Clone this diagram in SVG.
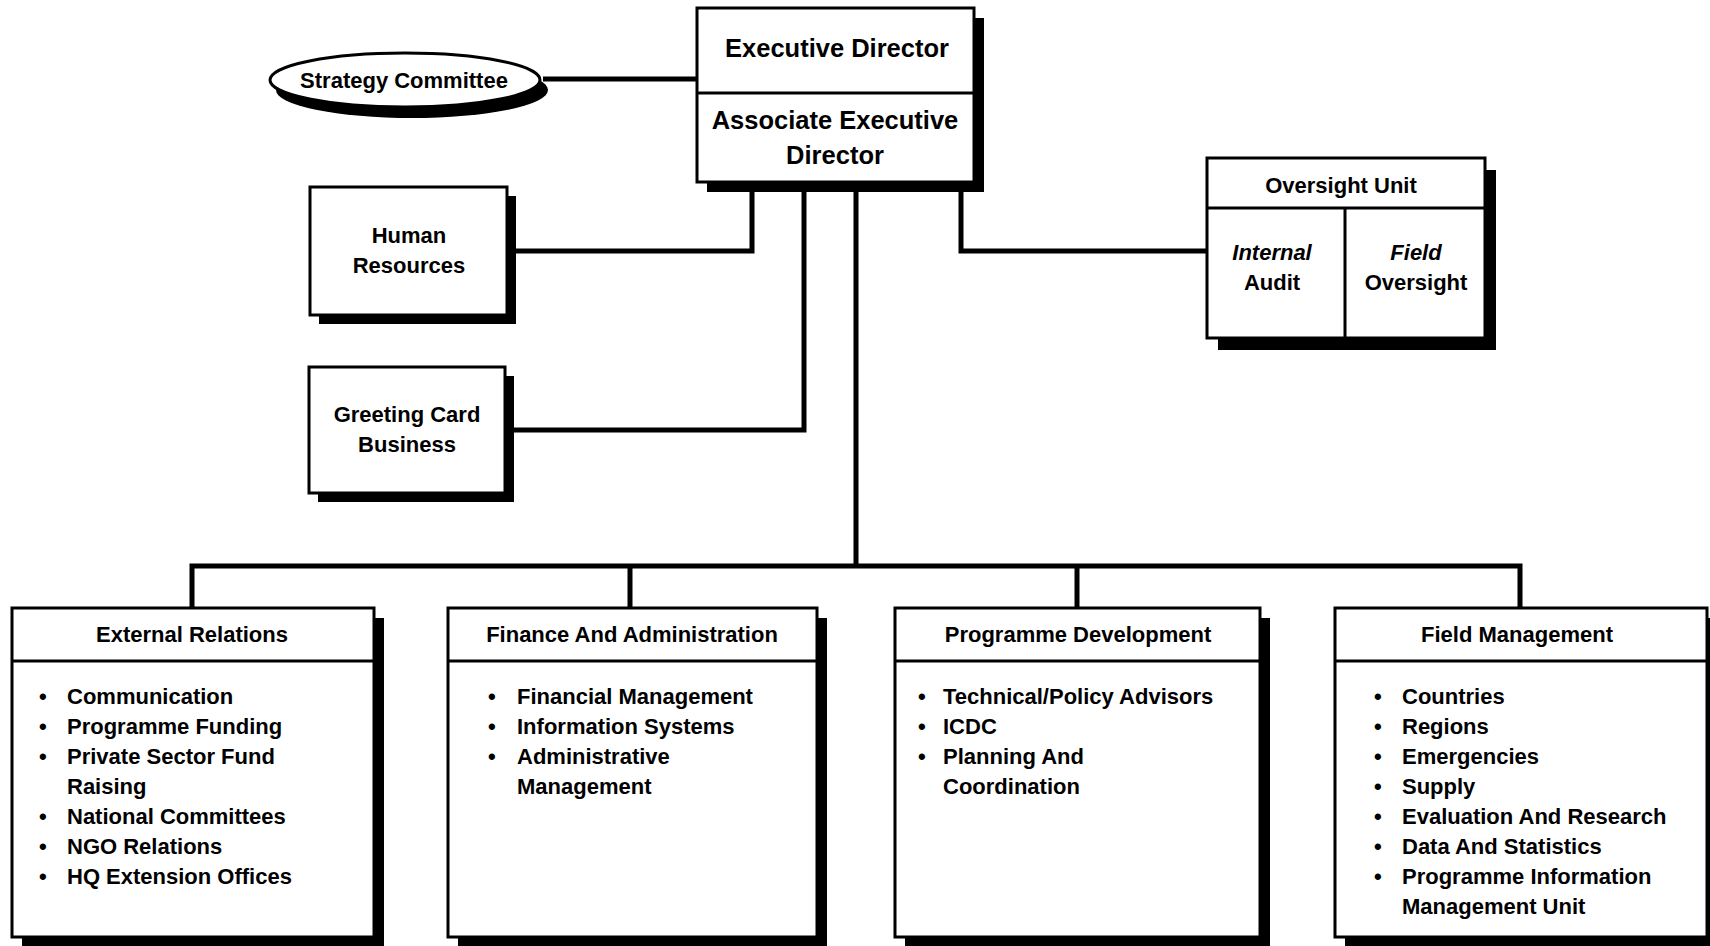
<svg xmlns="http://www.w3.org/2000/svg" width="1710" height="946" viewBox="0 0 1710 946">
<style>
  .bg { fill: #ffffff; }
  .box { fill: #ffffff; stroke: #000000; stroke-width: 3; }
  .div { stroke: #000000; stroke-width: 3; fill: none; }
  .shadow { fill: #000000; }
  .conn { stroke: #000000; stroke-width: 5; fill: none; stroke-linejoin: miter; }
  text { font-family: "Liberation Sans", Arial, Helvetica, sans-serif; font-weight: bold; fill: #000000; }
  .t22 { font-size: 22px; }
  .mid { text-anchor: middle; }
  .big { font-size: 25.5px; text-anchor: middle; }
  .it { font-style: italic; }
</style>
<rect class="bg" x="0" y="0" width="1710" height="946"/>

<g id="connectors">
  <path class="conn" d="M543,79 H697"/>
  <path class="conn" d="M752,182 V251 H507"/>
  <path class="conn" d="M804,182 V430 H505"/>
  <path class="conn" d="M856,182 V566"/>
  <path class="conn" d="M961,182 V251 H1207"/>
  <path class="conn" d="M192,608 V566 H1520 V608"/>
  <path class="conn" d="M630,566 V608"/>
  <path class="conn" d="M1077,566 V608"/>
</g>

<g id="strategy-committee">
  <ellipse class="shadow" cx="412" cy="90" rx="136" ry="28"/>
  <ellipse class="box" cx="405" cy="80" rx="135" ry="27"/>
  <text class="t22 mid" x="404" y="88">Strategy Committee</text>
</g>

<g id="executive-director">
  <rect class="shadow" x="707" y="18" width="277" height="174"/>
  <rect class="box" x="697" y="8" width="277" height="174"/>
  <line class="div" x1="697" y1="93" x2="974" y2="93"/>
  <text class="big" x="837" y="57">Executive Director</text>
  <text class="big" x="835" y="129">Associate Executive</text>
  <text class="big" x="835" y="164">Director</text>
</g>

<g id="human-resources">
  <rect class="shadow" x="319" y="196" width="197" height="128"/>
  <rect class="box" x="310" y="187" width="197" height="128"/>
  <text class="t22 mid" x="409" y="243">Human</text>
  <text class="t22 mid" x="409" y="273">Resources</text>
</g>

<g id="greeting-card-business">
  <rect class="shadow" x="318" y="376" width="196" height="126"/>
  <rect class="box" x="309" y="367" width="196" height="126"/>
  <text class="t22 mid" x="407" y="422">Greeting Card</text>
  <text class="t22 mid" x="407" y="452">Business</text>
</g>

<g id="oversight-unit">
  <rect class="shadow" x="1218" y="170" width="278" height="180"/>
  <rect class="box" x="1207" y="158" width="278" height="180"/>
  <line class="div" x1="1207" y1="208" x2="1485" y2="208"/>
  <line class="div" x1="1345" y1="208" x2="1345" y2="338"/>
  <text class="t22 mid" x="1341" y="193">Oversight Unit</text>
  <text class="t22 mid it" x="1272" y="260">Internal</text>
  <text class="t22 mid" x="1272" y="290">Audit</text>
  <text class="t22 mid it" x="1416" y="260">Field</text>
  <text class="t22 mid" x="1416" y="290">Oversight</text>
</g>

<g id="external-relations">
  <rect class="shadow" x="22" y="618" width="362" height="329"/>
  <rect class="box" x="12" y="608" width="362" height="329"/>
  <line class="div" x1="12" y1="661" x2="374" y2="661"/>
  <text class="t22 mid" x="192" y="642">External Relations</text>
  <text class="t22" x="39" y="704">•</text><text class="t22" x="67" y="704">Communication</text>
  <text class="t22" x="39" y="734">•</text><text class="t22" x="67" y="734">Programme Funding</text>
  <text class="t22" x="39" y="764">•</text><text class="t22" x="67" y="764">Private Sector Fund</text>
  <text class="t22" x="67" y="794">Raising</text>
  <text class="t22" x="39" y="824">•</text><text class="t22" x="67" y="824">National Committees</text>
  <text class="t22" x="39" y="854">•</text><text class="t22" x="67" y="854">NGO Relations</text>
  <text class="t22" x="39" y="884">•</text><text class="t22" x="67" y="884">HQ Extension Offices</text>
</g>

<g id="finance-administration">
  <rect class="shadow" x="458" y="618" width="369" height="329"/>
  <rect class="box" x="448" y="608" width="369" height="329"/>
  <line class="div" x1="448" y1="661" x2="817" y2="661"/>
  <text class="t22 mid" x="632" y="642">Finance And Administration</text>
  <text class="t22" x="488" y="704">•</text><text class="t22" x="517" y="704">Financial Management</text>
  <text class="t22" x="488" y="734">•</text><text class="t22" x="517" y="734">Information Systems</text>
  <text class="t22" x="488" y="764">•</text><text class="t22" x="517" y="764">Administrative</text>
  <text class="t22" x="517" y="794">Management</text>
</g>

<g id="programme-development">
  <rect class="shadow" x="905" y="618" width="365" height="329"/>
  <rect class="box" x="895" y="608" width="365" height="329"/>
  <line class="div" x1="895" y1="661" x2="1260" y2="661"/>
  <text class="t22 mid" x="1078" y="642">Programme Development</text>
  <text class="t22" x="918" y="704">•</text><text class="t22" x="943" y="704">Technical/Policy Advisors</text>
  <text class="t22" x="918" y="734">•</text><text class="t22" x="943" y="734">ICDC</text>
  <text class="t22" x="918" y="764">•</text><text class="t22" x="943" y="764">Planning And</text>
  <text class="t22" x="943" y="794">Coordination</text>
</g>

<g id="field-management">
  <rect class="shadow" x="1345" y="618" width="372" height="329"/>
  <rect class="box" x="1335" y="608" width="372" height="329"/>
  <line class="div" x1="1335" y1="661" x2="1707" y2="661"/>
  <text class="t22 mid" x="1517" y="642">Field Management</text>
  <text class="t22" x="1374" y="704">•</text><text class="t22" x="1402" y="704">Countries</text>
  <text class="t22" x="1374" y="734">•</text><text class="t22" x="1402" y="734">Regions</text>
  <text class="t22" x="1374" y="764">•</text><text class="t22" x="1402" y="764">Emergencies</text>
  <text class="t22" x="1374" y="794">•</text><text class="t22" x="1402" y="794">Supply</text>
  <text class="t22" x="1374" y="824">•</text><text class="t22" x="1402" y="824">Evaluation And Research</text>
  <text class="t22" x="1374" y="854">•</text><text class="t22" x="1402" y="854">Data And Statistics</text>
  <text class="t22" x="1374" y="884">•</text><text class="t22" x="1402" y="884">Programme Information</text>
  <text class="t22" x="1402" y="914">Management Unit</text>
</g>
</svg>
